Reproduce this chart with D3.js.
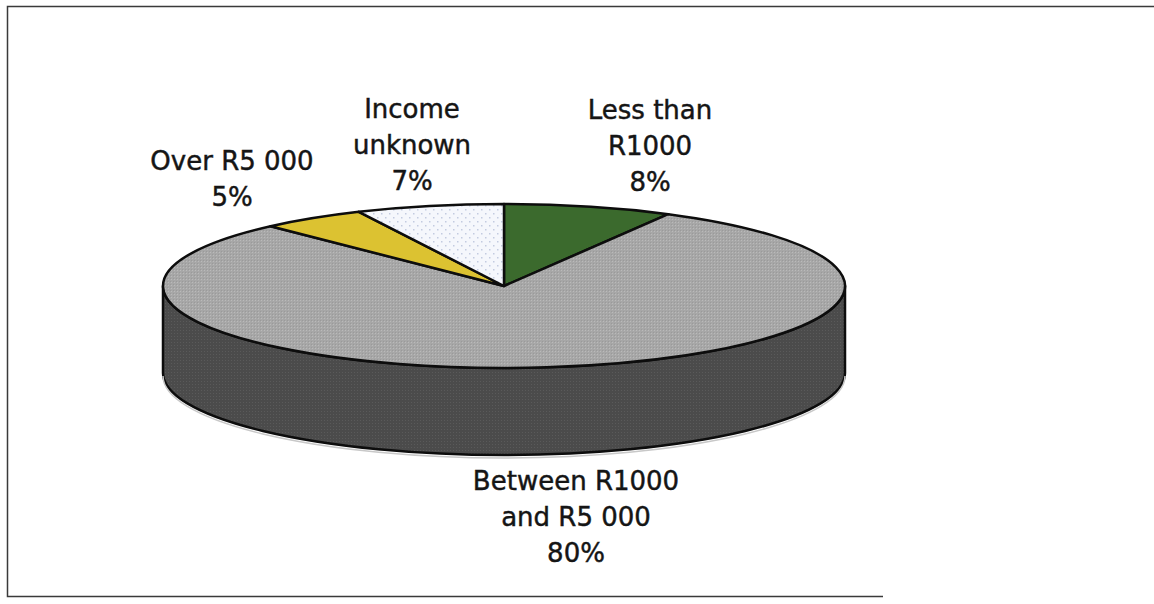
<!DOCTYPE html>
<html>
<head>
<meta charset="utf-8">
<script src="https://cdn.jsdelivr.net/npm/d3@7/dist/d3.min.js"></script>
<style>
  html, body { margin: 0; padding: 0; background: #fff; }
  svg { display: block; }
  text { font-family: "DejaVu Sans", Verdana, sans-serif; font-size: 26px; fill: #151515; stroke: #151515; stroke-width: 0.45px; }
</style>
</head>
<body>
<svg id="chart" width="1154" height="604"></svg>
<script>
// Monthly household income groups (share of respondents, %)
const categories = ["Less than R1000", "Between R1000 and R5 000", "Over R5 000", "Income unknown"];
const shares = [8, 80, 5, 7];
const labelNames = [["Less than", "R1000"], ["Between R1000", "and R5 000"], ["Over R5 000"], ["Income", "unknown"]];
const sliceColors = ["#3b6a2d", "#a7a7a7", "#dcc231", "#f5f7fc"];

// Layout of the tilted disc
const W = 1154, H = 604;
const cx = 504, cy = 286, rx = 341, ry = 82, depth = 87;
// label anchor (centre x, baseline of first line) per category
const labelAnchors = [[650, 119], [576, 490], [232, 170], [412, 118]];
const lineGap = 36;

const svg = d3.select("#chart");
const defs = svg.append("defs");

// fine halftone textures
const pGrey = defs.append("pattern").attr("id", "texGrey")
  .attr("width", 3).attr("height", 3).attr("patternUnits", "userSpaceOnUse");
pGrey.append("rect").attr("width", 3).attr("height", 3).attr("fill", sliceColors[1]);
pGrey.append("rect").attr("width", 1).attr("height", 1).attr("fill", "#bababa");
pGrey.append("rect").attr("x", 2).attr("y", 2).attr("width", 1).attr("height", 1).attr("fill", "#9a9a9a");

const pWhite = defs.append("pattern").attr("id", "texWhite")
  .attr("width", 8).attr("height", 8).attr("patternUnits", "userSpaceOnUse");
pWhite.append("rect").attr("width", 8).attr("height", 8).attr("fill", sliceColors[3]);
pWhite.append("rect").attr("x", 1).attr("y", 1).attr("width", 1.5).attr("height", 1.5).attr("fill", "#c3cbe0");
pWhite.append("rect").attr("x", 5).attr("y", 5).attr("width", 1.5).attr("height", 1.5).attr("fill", "#c3cbe0");

const pSide = defs.append("pattern").attr("id", "texSide")
  .attr("width", 3).attr("height", 3).attr("patternUnits", "userSpaceOnUse");
pSide.append("rect").attr("width", 3).attr("height", 3).attr("fill", "#4b4b4b");
pSide.append("rect").attr("width", 1).attr("height", 1).attr("fill", "#5a5a5a");

const fills = [sliceColors[0], "url(#texGrey)", sliceColors[2], "url(#texWhite)"];
const sideFills = ["#253f1c", "url(#texSide)", "#8a7820", "#9a9ca2"];

// frame around the figure (open on the right)
svg.append("path")
  .attr("d", `M${W},6.5 H7.5 V596.5 H883`)
  .attr("fill", "none").attr("stroke", "#3a3a3a").attr("stroke-width", 1.5);

// angles measured clockwise from 12 o'clock
const pie = d3.pie().sort(null).value(d => d.v);
const arcs = pie(shares.map((v, i) => ({ v, i })));

const pt = (a, dy = 0) => [cx + rx * Math.sin(a), cy - ry * Math.cos(a) + dy];

// side walls: only the front half (from 3 o'clock to 9 o'clock) is visible
const gSide = svg.append("g");
arcs.forEach(d => {
  const a0 = Math.max(d.startAngle, Math.PI / 2);
  const a1 = Math.min(d.endAngle, 3 * Math.PI / 2);
  if (a1 <= a0) return;
  const p0 = pt(a0), p1 = pt(a1), q1 = pt(a1, depth), q0 = pt(a0, depth);
  const large = (a1 - a0) > Math.PI ? 1 : 0;
  const s = `M${p0} A${rx},${ry} 0 ${large} 1 ${p1} L${q1} A${rx},${ry} 0 ${large} 0 ${q0} Z`;
  gSide.append("path").attr("d", s)
    .attr("fill", sideFills[d.data.i]).attr("stroke", "#0d0d0d").attr("stroke-width", 2.5)
    .attr("stroke-linejoin", "round");
});

// soft light rim under the base
svg.append("path")
  .attr("d", `M${pt(Math.PI / 2, depth + 3)} A${rx},${ry} 0 0 1 ${pt(3 * Math.PI / 2, depth + 3)}`)
  .attr("fill", "none").attr("stroke", "#c8c8c8").attr("stroke-width", 1.5);

// top faces
const gTop = svg.append("g");
arcs.forEach(d => {
  const p0 = pt(d.startAngle), p1 = pt(d.endAngle);
  const large = (d.endAngle - d.startAngle) > Math.PI ? 1 : 0;
  const s = `M${cx},${cy} L${p0} A${rx},${ry} 0 ${large} 1 ${p1} Z`;
  gTop.append("path").attr("d", s)
    .attr("fill", fills[d.data.i]).attr("stroke", "#0d0d0d").attr("stroke-width", 2.5)
    .attr("stroke-linejoin", "round");
});

// labels: category name lines followed by the share
const gLab = svg.append("g");
arcs.forEach(d => {
  const i = d.data.i;
  const lines = labelNames[i].concat([`${shares[i]}%`]);
  const [x, y] = labelAnchors[i];
  const t = gLab.append("text").attr("text-anchor", "middle");
  lines.forEach((ln, k) => {
    t.append("tspan").attr("x", x).attr("y", y + k * lineGap).text(ln);
  });
});
</script>
</body>
</html>
